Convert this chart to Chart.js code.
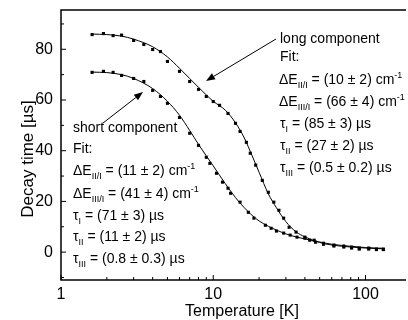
<!DOCTYPE html>
<html lang="en">
<head>
  <meta charset="UTF-8">
  <title>Decay time vs temperature</title>
  <script src="https://cdn.jsdelivr.net/npm/chart.js"></script>
  <style>
    html, body { margin: 0; padding: 0; background: #fff; overflow: hidden; }
  </style>
</head>
<body>
  <canvas id="decayChart" width="408" height="320"></canvas>

  <script>
    // long component, measured points
    const longTemp = [1.6, 1.9, 2.2, 2.5, 3, 3.5, 4, 4.5, 5, 6, 7, 8, 9, 10, 11, 12.5, 14, 15, 16.5, 17.5,
      19, 21, 23, 25, 27, 29, 31.5, 35, 40, 43, 47, 53, 62, 72, 81, 91, 105, 118, 131];
    const longTime = [85.8, 86.2, 85.4, 85.6, 83.5, 81.9, 79.9, 79.1, 75.2, 71.3, 67.3, 64.2, 61.4, 59.4, 57.9, 54.7, 50.8, 47.6, 43.3, 39.0,
      34.3, 28.3, 23.6, 19.7, 16.5, 13.4, 9.8, 7.9, 5.9, 4.7, 3.9, 3.1, 2.4, 2.0, 1.6, 1.2, 1.2, 1.0, 1.0];

    // short component, measured points
    const shortTemp = [1.6, 1.9, 2.2, 2.5, 3, 3.5, 4, 4.5, 5, 6, 7, 8, 9, 9.5, 10.5, 11.5, 12.5, 13, 15, 17,
      18.5, 22, 24, 26, 29, 32, 35.5, 40, 46, 53, 62, 72, 81, 91, 105, 118, 131];
    const shortTime = [70.9, 71.3, 70.9, 69.7, 68.5, 67.3, 63.8, 61.4, 58.7, 53.1, 46.9, 42.1, 37.4, 35.0, 31.1, 27.6, 25.2, 23.2, 19.7, 15.7,
      13.4, 10.6, 9.4, 8.3, 7.5, 6.7, 5.9, 5.5, 4.7, 3.5, 2.8, 2.4, 2.0, 1.6, 1.6, 1.2, 1.2];

    // fit curves
    const fitTemp = [1.6, 2, 2.5, 3, 4, 5, 6, 7, 8, 10, 12, 14, 16, 18, 20, 23, 26, 30, 35, 40, 50, 60, 80, 100, 131];
    const longFit = [86, 85.8, 85.2, 84, 81, 77, 72.5, 68.5, 65, 59.5, 56, 51, 45, 38, 31.5, 23, 17.5, 12, 8, 6, 3.8, 2.8, 2, 1.6, 1.3];
    const shortFit = [71, 70.8, 70, 68.5, 64.5, 59.5, 54, 48, 42.5, 34, 27, 21.5, 17.5, 14.5, 12.3, 10.2, 8.7, 7.2, 6, 5.2, 4, 3.1, 2.3, 1.8, 1.5];

    // axis ticks
    const xLabelTicks = [1, 10, 100];
    const xMinorTicks = [2, 3, 4, 5, 6, 7, 8, 9, 20, 30, 40, 50, 60, 70, 80, 90];
    const yLabelTicks = [0, 20, 40, 60, 80];
    const yMinorTicks = [-10, 10, 30, 50, 70, 90];

    const FONT = '"Liberation Sans", Arial, sans-serif';

    const pts = (xs, ys) => xs.map((x, i) => ({ x: x, y: ys[i] }));

    // text with sub/superscripts: parts are strings or [text, 'sub'|'sup']
    function richText(ctx, x, y, parts) {
      let cx = x;
      parts.forEach(p => {
        const txt = Array.isArray(p) ? p[0] : p;
        const kind = Array.isArray(p) ? p[1] : null;
        ctx.font = (kind ? 9 : 14) + 'px ' + FONT;
        const dy = kind === 'sub' ? 4 : (kind === 'sup' ? -6 : 0);
        ctx.fillText(txt, cx, y + dy);
        cx += ctx.measureText(txt).width;
      });
    }

    function arrow(ctx, x1, y1, x2, y2) {
      const ang = Math.atan2(y2 - y1, x2 - x1);
      const len = 9, half = 3.5;
      ctx.beginPath();
      ctx.moveTo(x1, y1);
      ctx.lineTo(x2 - Math.cos(ang) * len, y2 - Math.sin(ang) * len);
      ctx.lineWidth = 1;
      ctx.stroke();
      ctx.beginPath();
      ctx.moveTo(x2, y2);
      ctx.lineTo(x2 - Math.cos(ang) * len - Math.sin(ang) * half, y2 - Math.sin(ang) * len + Math.cos(ang) * half);
      ctx.lineTo(x2 - Math.cos(ang) * len + Math.sin(ang) * half, y2 - Math.sin(ang) * len - Math.cos(ang) * half);
      ctx.closePath();
      ctx.fill();
    }

    const frameAndNotes = {
      id: 'frameAndNotes',
      afterDraw(chart) {
        const { ctx, chartArea: a, scales: { x, y } } = chart;
        ctx.save();
        ctx.strokeStyle = '#000';
        ctx.fillStyle = '#000';

        // frame (left, bottom, top) - right side is cut off in the reference
        ctx.lineWidth = 1.5;
        ctx.beginPath();
        ctx.moveTo(a.right + 2, a.top);
        ctx.lineTo(a.left, a.top);
        ctx.lineTo(a.left, a.bottom);
        ctx.lineTo(a.right + 2, a.bottom);
        ctx.stroke();

        // inward ticks
        ctx.lineWidth = 1;
        ctx.beginPath();
        xLabelTicks.forEach(v => { const px = x.getPixelForValue(v); ctx.moveTo(px, a.bottom); ctx.lineTo(px, a.bottom - 5); });
        xMinorTicks.forEach(v => { const px = x.getPixelForValue(v); ctx.moveTo(px, a.bottom); ctx.lineTo(px, a.bottom - 3); });
        yLabelTicks.forEach(v => { const py = y.getPixelForValue(v); ctx.moveTo(a.left, py); ctx.lineTo(a.left + 5, py); });
        yMinorTicks.forEach(v => { const py = y.getPixelForValue(v); ctx.moveTo(a.left, py); ctx.lineTo(a.left + 3, py); });
        ctx.stroke();

        // axis titles
        ctx.font = '16px ' + FONT;
        ctx.textAlign = 'center';
        ctx.textBaseline = 'alphabetic';
        ctx.fillText('Temperature [K]', 242, 316);
        ctx.save();
        ctx.translate(33, 159);
        ctx.rotate(-Math.PI / 2);
        ctx.font = '17px ' + FONT;
        ctx.fillText('Decay time [\u00b5s]', 0, 0);
        ctx.restore();

        // annotations
        ctx.textAlign = 'left';
        arrow(ctx, 276, 39, 206, 81);
        arrow(ctx, 103, 123, 143, 92);

        const lx = 280;
        richText(ctx, lx, 43, ['long component']);
        richText(ctx, lx, 61, ['Fit:']);
        richText(ctx, lx - 1, 84, ['\u0394E', ['II/I', 'sub'], ' = (10 \u00b1 2) cm', ['-1', 'sup']]);
        richText(ctx, lx - 1, 106, ['\u0394E', ['III/I', 'sub'], ' = (66 \u00b1 4) cm', ['-1', 'sup']]);
        richText(ctx, lx, 128, ['\u03c4', ['I', 'sub'], ' = (85 \u00b1 3) \u00b5s']);
        richText(ctx, lx, 150, ['\u03c4', ['II', 'sub'], ' = (27 \u00b1 2) \u00b5s']);
        richText(ctx, lx, 172, ['\u03c4', ['III', 'sub'], ' = (0.5 \u00b1 0.2) \u00b5s']);

        const sx = 73;
        richText(ctx, sx, 132, ['short component']);
        richText(ctx, sx, 153, ['Fit:']);
        richText(ctx, sx, 175, ['\u0394E', ['II/I', 'sub'], ' = (11 \u00b1 2) cm', ['-1', 'sup']]);
        richText(ctx, sx, 198, ['\u0394E', ['III/I', 'sub'], ' = (41 \u00b1 4) cm', ['-1', 'sup']]);
        richText(ctx, sx, 220, ['\u03c4', ['I', 'sub'], ' = (71 \u00b1 3) \u00b5s']);
        richText(ctx, sx, 241, ['\u03c4', ['II', 'sub'], ' = (11 \u00b1 2) \u00b5s']);
        richText(ctx, sx, 263, ['\u03c4', ['III', 'sub'], ' = (0.8 \u00b1 0.3) \u00b5s']);

        ctx.restore();
      }
    };

    const pointStyle = {
      showLine: false,
      pointStyle: 'rect',
      pointRadius: 2.2,
      pointBackgroundColor: '#000',
      pointBorderWidth: 0,
      borderColor: '#000'
    };
    const fitStyle = {
      showLine: true,
      borderColor: '#000',
      borderWidth: 1,
      pointRadius: 0,
      cubicInterpolationMode: 'monotone'
    };

    // fixed axis box sizes so the plot area lands where the reference has it
    const noPad = s => { s.paddingLeft = 0; s.paddingRight = 0; s.paddingTop = 0; s.paddingBottom = 0; };

    new Chart(document.getElementById('decayChart'), {
      type: 'scatter',
      data: {
        datasets: [
          Object.assign({ label: 'long fit', data: pts(fitTemp, longFit) }, fitStyle),
          Object.assign({ label: 'short fit', data: pts(fitTemp, shortFit) }, fitStyle),
          Object.assign({ label: 'long component', data: pts(longTemp, longTime) }, pointStyle),
          Object.assign({ label: 'short component', data: pts(shortTemp, shortTime) }, pointStyle)
        ]
      },
      options: {
        responsive: false,
        animation: false,
        layout: { padding: { top: 10, right: 0, left: 0, bottom: 0 } },
        plugins: {
          legend: { display: false },
          tooltip: { enabled: false }
        },
        scales: {
          x: {
            type: 'logarithmic',
            min: 1,
            max: 179,
            grid: { display: false, drawTicks: false },
            border: { display: false },
            afterBuildTicks: s => { s.ticks = xLabelTicks.map(v => ({ value: v })); },
            afterFit: s => { s.height = 40; noPad(s); },
            ticks: {
              autoSkip: false,
              maxRotation: 0,
              padding: 5,
              color: '#000',
              font: { family: FONT, size: 16 },
              callback: v => String(v)
            }
          },
          y: {
            min: -11,
            max: 95.5,
            grid: { display: false, drawTicks: false },
            border: { display: false },
            afterBuildTicks: s => { s.ticks = yLabelTicks.map(v => ({ value: v })); },
            afterFit: s => { s.width = 61; noPad(s); },
            ticks: {
              padding: 8,
              color: '#000',
              font: { family: FONT, size: 16 }
            }
          }
        }
      },
      plugins: [frameAndNotes]
    });
  </script>
</body>
</html>
